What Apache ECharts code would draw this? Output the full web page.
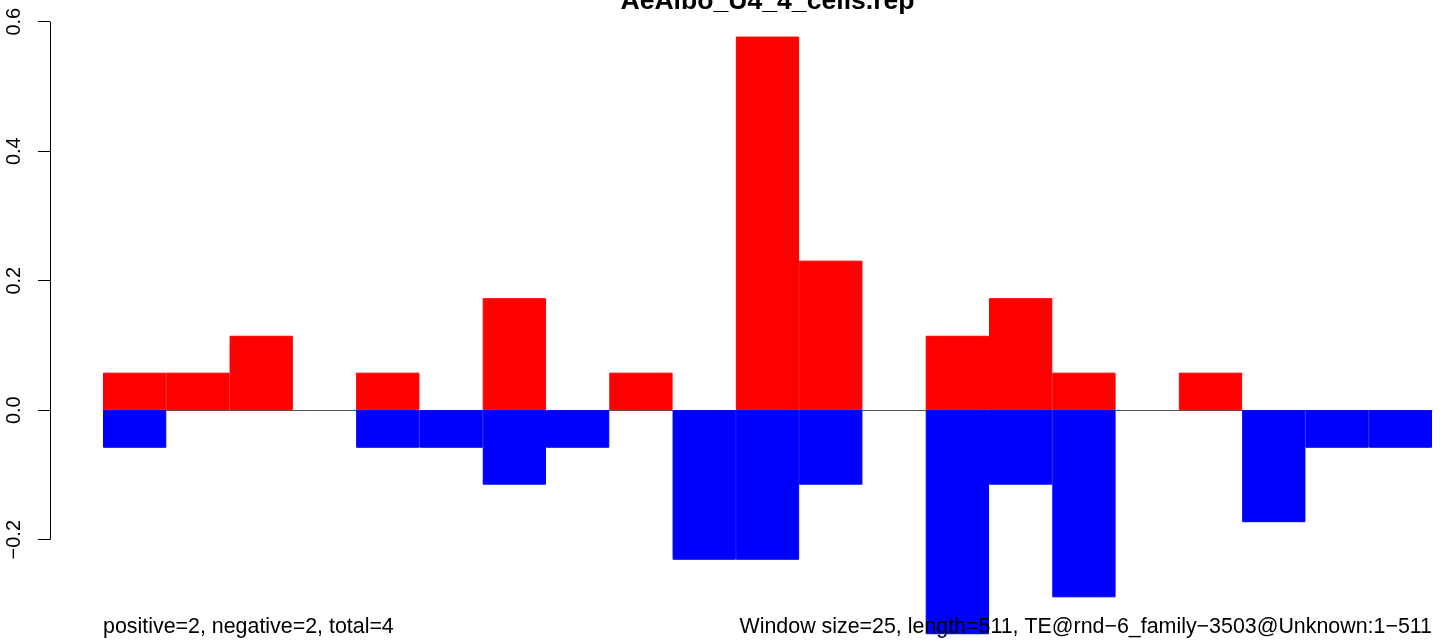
<!DOCTYPE html>
<html>
<head>
<meta charset="utf-8">
<script src="https://cdn.jsdelivr.net/npm/echarts@6/dist/echarts.min.js"></script>
<style>
html,body{margin:0;padding:0;background:#fff;overflow:hidden;}
#chart{width:1444px;height:690px;}
</style>
</head>
<body>
<div id="chart"></div>
<script>
var titleText = "AeAlbo_U4_4_cells.rep";
var leftNote = "positive=2, negative=2, total=4";
var rightNote = "Window size=25, length=511, TE@rnd\u22126_family\u22123503@Unknown:1\u2212511";
var bins = ["1","2","3","4","5","6","7","8","9","10","11","12","13","14","15","16","17","18","19","20","21"];
var positiveValues = [0.058,0.058,0.115,0,0.058,0,0.173,0,0.058,0,0.577,0.231,0,0.115,0.173,0.058,0,0.058,0,0,0];
var negativeValues = [-0.058,0,0,0,-0.058,-0.058,-0.115,-0.058,0,-0.231,-0.231,-0.115,0,-0.346,-0.115,-0.289,0,0,-0.173,-0.058,-0.058];
var yTicks = [-0.2, 0.0, 0.2, 0.4, 0.6];

function nonZero(arr) {
  return arr.map(function (v) { return v === 0 ? '-' : v; });
}

var chart = echarts.init(document.getElementById('chart'), null, {renderer:'canvas', width: 1444, height: 690});
var option = {
  animation: false,
  backgroundColor: '#ffffff',
  grid: {left: 103, right: 12, top: 21.7, height: 647.5, containLabel: false},
  xAxis: {
    type: 'category',
    data: bins,
    axisLine: {show: true, onZero: true, lineStyle: {color: '#555555', width: 1}},
    axisTick: {show: false},
    axisLabel: {show: false},
    splitLine: {show: false}
  },
  yAxis: {
    type: 'value',
    min: -0.4,
    max: 0.6,
    interval: 0.2,
    offset: 53,
    axisLine: {show: false},
    axisTick: {show: true, length: 12, lineStyle: {color: '#000', width: 1}},
    splitLine: {show: false},
    axisLabel: {
      show: true,
      rotate: 90,
      margin: 26,
      fontFamily: 'Liberation Sans, Arial, sans-serif',
      fontSize: 20,
      color: '#000',
      formatter: function (v) {
        var r = Math.round(v * 10) / 10;
        if (yTicks.indexOf(r) < 0) return '';
        return r.toFixed(1).replace('-', '\u2212');
      }
    }
  },
  series: [
    {
      type: 'bar',
      name: 'positive',
      data: nonZero(positiveValues),
      barCategoryGap: 0,
      barGap: '-100%',
      itemStyle: {color: '#ff0000', borderColor: '#ff0000', borderWidth: 1},
      z: 3
    },
    {
      type: 'bar',
      name: 'negative',
      data: nonZero(negativeValues),
      barCategoryGap: 0,
      barGap: '-100%',
      itemStyle: {color: '#0000ff', borderColor: '#0000ff', borderWidth: 1},
      z: 3
    }
  ]
};
chart.setOption(option);

var yTop = chart.convertToPixel({yAxisIndex: 0}, yTicks[yTicks.length - 1]);
var yBot = chart.convertToPixel({yAxisIndex: 0}, yTicks[0]);
var axisX = 103 - 53 + 0.5;
var gridLeft = chart.convertToPixel({xAxisIndex: 0}, bins[0]);
var gridRight = chart.convertToPixel({xAxisIndex: 0}, bins[bins.length - 1]);
var half = (gridRight - gridLeft) / (bins.length - 1) / 2;
var plotCenter = (gridLeft - half + gridRight + half) / 2;

chart.setOption({
  graphic: [
    {type: 'line', z: 10, shape: {x1: axisX, y1: yTop, x2: axisX, y2: yBot}, style: {stroke: '#000', lineWidth: 1}},
    {type: 'text', z: 10, x: plotCenter, y: 2, style: {text: titleText, font: 'bold 26.6px "Liberation Sans", Arial, sans-serif', fill: '#000', textAlign: 'center', textVerticalAlign: 'middle'}},
    {type: 'text', z: 10, x: gridLeft - half, y: 627, style: {text: leftNote, font: '21.4px "Liberation Sans", Arial, sans-serif', fill: '#000', textAlign: 'left', textVerticalAlign: 'middle'}},
    {type: 'text', z: 10, x: gridRight + half, y: 627, style: {text: rightNote, font: '21.4px "Liberation Sans", Arial, sans-serif', fill: '#000', textAlign: 'right', textVerticalAlign: 'middle'}}
  ]
});
</script>
</body>
</html>
